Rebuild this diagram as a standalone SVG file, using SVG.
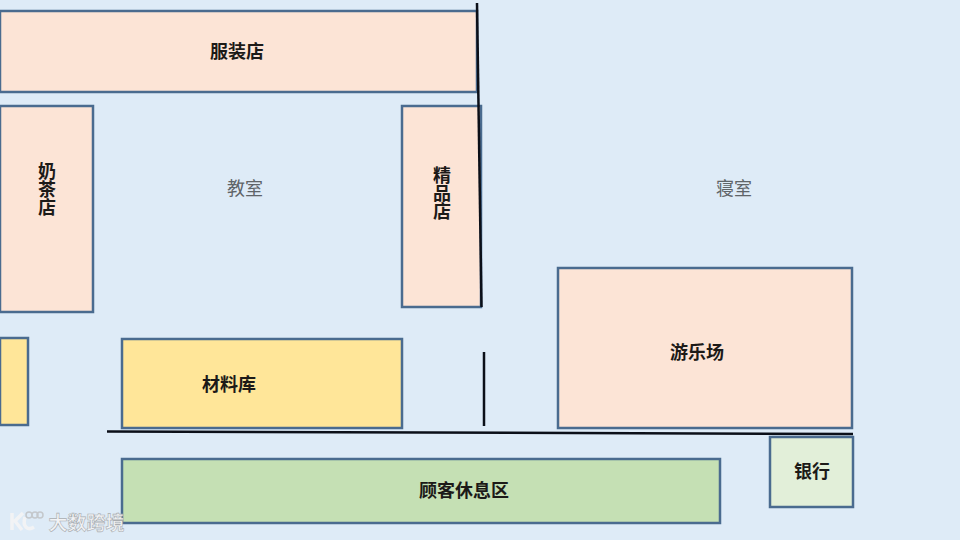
<svg xmlns="http://www.w3.org/2000/svg" width="960" height="540" viewBox="0 0 960 540">
<style>
.room{stroke:#4a6b8f;stroke-width:2.500}
.peach{fill:#fce4d6}
.yellow{fill:#ffe699}
.green{fill:#c5e0b4}
.pale{fill:#e2efd9}
text{font-family:"Noto Sans CJK SC","Noto Sans",sans-serif;text-anchor:middle}
.label{font-size:18px;font-weight:700;fill:#1c1a18}
.vert{writing-mode:vertical-rl}
.area{font-size:18px;font-weight:400;fill:#5f6468}
.wall{stroke:#0b0f18;stroke-width:2.500;fill:none}
.wm{font-size:19px;font-weight:700;fill:#f2f3f5;stroke:#a9adb1;stroke-width:.6}
.wmlogo{fill:none;stroke:#f2f3f5;stroke-width:3.500}
.wmring{fill:none;stroke:#c4c8cc;stroke-width:1.500}
</style>
<rect width="960" height="540" fill="#deebf7"/>
<g id="area-classroom"><text class="area" x="245" y="195">教室</text></g>
<g id="area-dorm"><text class="area" x="734" y="195">寝室</text></g>
<g id="clothing-store"><rect class="room peach" x="0" y="11" width="477" height="81"/><text class="label" x="237" y="58">服装店</text></g>
<g id="milk-tea-shop"><rect class="room peach" x="0" y="106" width="93" height="206"/><text class="label vert" x="47" y="189">奶茶店</text></g>
<g id="boutique"><rect class="room peach" x="402" y="106" width="79" height="201"/><text class="label vert" x="442" y="193">精品店</text></g>
<g id="amusement-park"><rect class="room peach" x="558" y="268" width="294" height="160"/><text class="label" x="697" y="359">游乐场</text></g>
<g id="yellow-block"><rect class="room yellow" x="0" y="338" width="28" height="87"/></g>
<g id="material-store"><rect class="room yellow" x="122" y="339" width="280" height="89"/><text class="label" x="229" y="391">材料库</text></g>
<g id="customer-lounge"><rect class="room green" x="122" y="459" width="598" height="64"/><text class="label" x="464" y="497">顾客休息区</text></g>
<g id="bank"><rect class="room pale" x="770" y="437" width="83" height="70"/><text class="label" x="812" y="478">银行</text></g>
<g id="connectors">
<path class="wall" d="M477 3L481.500 307"/>
<path class="wall" d="M484 352V426"/>
<path class="wall" d="M107 431.500L853 434"/>
</g>
<g id="watermark">
<path class="wmlogo" d="M12 513V530M23 513L15 521L22 530M25 517C22 527 28 531 34 527"/>
<circle class="wmring" cx="29" cy="515" r="3"/><circle class="wmring" cx="35" cy="515" r="3"/><circle class="wmring" cx="40" cy="515" r="3"/>
<text class="wm" x="86.500" y="530">大数跨境</text>
</g>
</svg>
